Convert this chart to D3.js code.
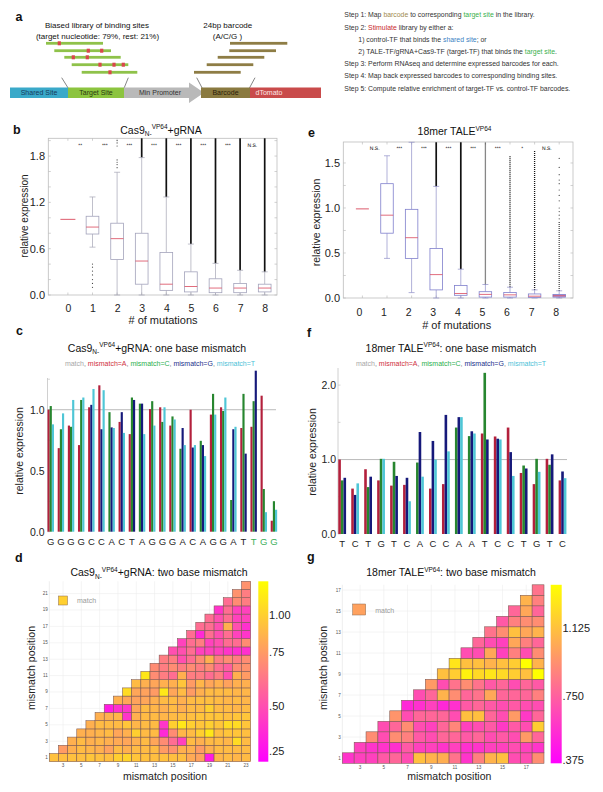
<!DOCTYPE html>
<html><head><meta charset="utf-8">
<script src="https://cdn.jsdelivr.net/npm/d3@7"></script>
<style>body{margin:0;background:#fff} svg{display:block} text{font-family:"Liberation Sans",Arial,Helvetica,sans-serif}</style>
</head><body><svg id="c" width="603" height="792"></svg>
<script>
// ---------------- DATA ----------------
const mutationCounts = [0,1,2,3,4,5,6,7,8];
// [lowWhisker, q1, median, q3, highWhisker]
const cas9Box = [
 [0.98,0.98,0.98,0.98,0.98],
 [0.62,0.79,0.88,1.02,1.27],
 [0.00,0.46,0.73,0.93,1.59],
 [0.00,0.14,0.44,0.80,1.78],
 [0.00,0.06,0.14,0.55,1.27],
 [0.00,0.04,0.11,0.30,0.66],
 [0.00,0.03,0.09,0.21,0.41],
 [0.00,0.03,0.09,0.15,0.32],
 [0.00,0.04,0.09,0.14,0.30]];
const cas9Outliers = [[],[0.40,0.36,0.31,0.26,0.20,0.15,0.10],[1.65,1.69,1.72,1.75,1.93,1.97,2.00],[],[],[],[],[],[]];
const cas9DenseOutliers = [null,null,null,[1.78,2.03],[1.27,2.03],[0.66,2.03],[0.41,2.03],[0.32,2.03],[0.30,2.03]];
const cas9Signif = ["**","***","***","***","***","***","***","N.S."];
const cas9YTicks = [0,0.6,1.2,1.8];

const taleBox = [
 [0.99,0.99,0.99,0.99,0.99],
 [0.44,0.72,0.92,1.27,1.58],
 [0.06,0.44,0.67,0.985,1.73],
 [0.00,0.09,0.26,0.55,1.24],
 [0.00,0.03,0.05,0.14,0.32],
 [0.00,0.01,0.04,0.07,0.15],
 [0.00,0.01,0.035,0.06,0.12],
 [0.00,0.005,0.02,0.045,0.09],
 [0.00,0.01,0.025,0.04,0.08]];
const taleOutliers = [[],[],[],[],[],[],[],[],[1.55,1.45,1.37,1.31,1.27,1.20,1.14,1.08,1.00,0.96,0.92,0.88]];
const taleDenseOutliers = [null,null,null,[1.24,1.73],[0.32,1.73],[0.15,1.73],[0.12,1.58],[0.09,1.64],[0.08,0.85]];
const taleSignif = ["N.S.","***","***","***","***","***","*","N.S."];
const taleYTicks = [0,0.5,1.0,1.5];

const bases = ["A","C","G","T"];
const cas9Seq = ["G","G","G","G","C","C","A","C","T","A","G","G","G","A","C","A","G","G","A","T","T","G","G"];
const cas9MisA = [1.00,0.685,0.87,0.71,1.02,1.20,null,0.90,0.80,null,1.005,1.02,0.87,null,1.00,null,0.96,1.02,null,0.85,0.86,1.115,0.09];
const cas9MisC = [1.03,0.84,0.86,1.08,null,null,0.98,null,1.10,1.05,1.07,0.90,0.945,0.68,null,0.745,1.13,0.99,0.26,1.13,1.07,0.35,0.25];
const cas9MisG = [null,null,null,null,1.04,0.84,0.855,0.98,1.08,1.05,null,null,null,0.85,0.69,0.71,null,null,0.84,0.64,1.32,null,null];
const cas9MisT = [0.88,0.97,1.08,1.10,1.17,1.16,0.85,0.81,null,0.80,0.87,1.02,0.92,0.71,0.71,0.62,0.96,1.10,0.86,null,null,0.16,0.18];

const taleSeq = ["T","C","T","G","T","C","A","C","C","A","A","T","C","C","T","G","T","C"];
const taleMisA = [1.00,0.61,0.87,0.72,0.65,0.66,null,0.61,0.67,null,null,1.35,1.31,1.43,0.82,0.67,1.01,0.72];
const taleMisC = [0.72,null,0.63,1.01,0.97,null,0.96,null,null,1.43,1.315,2.165,null,null,0.92,1.01,0.93,null];
const taleMisG = [0.755,0.525,0.77,null,0.78,0.755,1.37,1.25,1.60,1.57,1.38,1.27,1.28,1.10,0.88,null,1.07,0.84];
const taleMisT = [null,0.68,null,1.01,null,0.44,0.77,1.00,1.11,1.57,1.35,null,1.27,0.78,null,0.835,null,0.75];

// two-base mismatch heatmaps: row i (first position) lists values for second positions i+1..N
const cas9Pair = [
 [0.93,0.92,0.93,0.92,0.95,0.93,0.92,1.00,1.02,0.95,0.93,0.92,0.93,0.92,0.92,0.82,0.78,0.30,0.88,0.90,0.88,0.90],
 [0.75,0.85,0.90,0.88,0.85,0.78,0.90,0.85,0.90,0.90,0.90,0.75,0.72,0.85,0.85,0.75,0.85,0.90,0.90,0.90,0.90],
 [0.85,0.90,0.85,0.88,0.85,0.82,0.80,0.85,0.90,0.80,0.70,0.60,0.45,0.90,0.85,0.90,0.90,0.88,1.05,0.90],
 [0.85,0.85,0.88,0.90,0.80,0.85,1.00,0.90,0.90,0.35,0.70,0.88,0.90,1.00,1.10,0.92,0.95,0.95,0.92],
 [0.85,0.90,0.90,0.90,0.95,0.88,0.90,0.90,0.40,1.00,1.10,1.00,0.95,1.00,0.95,1.05,1.05,0.95],
 [0.85,0.85,0.88,0.40,0.85,0.90,0.90,0.88,0.90,0.92,0.92,0.95,0.95,0.95,0.92,0.95,0.95],
 [0.30,0.38,0.40,0.80,0.90,0.88,0.85,0.90,0.85,0.90,0.90,1.00,0.90,0.90,0.88,0.90],
 [0.85,0.80,0.78,0.80,0.85,0.90,0.90,0.85,0.90,0.92,0.92,0.90,0.88,0.90,0.88],
 [1.05,0.80,0.78,0.75,1.10,0.80,0.90,0.75,0.85,0.90,0.90,0.90,0.88,0.88],
 [0.90,0.85,0.80,0.85,0.85,0.95,0.75,0.88,0.80,0.85,0.78,0.85,0.85],
 [1.10,0.70,0.65,0.60,0.85,0.65,0.65,0.60,0.65,0.50,0.85,0.75],
 [0.70,0.65,0.70,0.65,0.70,0.65,0.70,0.60,0.55,0.70,0.72],
 [0.65,0.65,0.50,0.60,0.70,0.85,0.65,0.70,0.65,0.70],
 [0.50,0.50,0.60,0.45,0.45,0.45,0.40,0.38,0.38],
 [0.45,0.60,0.65,0.45,0.50,0.60,0.60,0.70],
 [0.60,0.35,0.60,0.50,0.60,0.45,0.40],
 [0.60,0.60,0.50,0.85,0.50,0.38],
 [0.60,0.50,0.60,0.45,0.45],
 [0.40,0.60,0.45,0.45],
 [0.60,0.70,0.65],
 [0.72,0.65],
 [0.72]];
const talePair = [
 [0.57,0.62,0.62,0.72,0.77,0.67,1.12,1.07,1.05,0.82,0.57,0.87,1.07,1.12,0.67,0.67,0.92],
 [0.62,0.57,0.57,0.55,0.72,0.62,0.62,0.57,0.62,0.55,0.57,0.62,0.62,0.67,0.62,0.57],
 [0.92,0.67,0.92,0.87,0.72,0.67,0.77,0.77,0.72,0.77,0.67,0.72,0.67,0.97,0.77],
 [0.67,0.77,0.92,0.67,0.62,0.77,0.89,0.62,0.67,0.72,0.59,0.72,0.67,1.17],
 [0.95,0.67,0.77,0.77,0.77,0.67,1.12,1.12,0.77,0.67,0.97,0.59,0.77],
 [0.52,0.55,0.62,0.52,0.55,0.72,0.77,0.72,0.67,0.72,0.67,0.67],
 [0.67,0.77,1.07,0.92,0.77,0.82,1.02,0.77,0.77,0.77,0.87],
 [0.97,0.67,0.82,0.92,0.82,0.72,0.77,0.67,0.77,0.72],
 [1.12,1.17,1.32,1.22,1.27,1.22,1.17,1.12,1.38],
 [1.27,1.12,1.12,1.07,1.12,1.17,1.38,1.07],
 [0.67,0.67,1.02,0.62,0.87,0.67,0.92],
 [0.77,0.67,0.62,1.02,0.87,0.77],
 [0.82,0.92,1.12,1.02,1.07],
 [0.72,0.87,0.92,0.92],
 [0.77,1.02,0.77],
 [1.07,0.87],
 [0.82]];
const cas9CbTicks = [0.25,0.5,0.75,1.0];
const cas9CbLabels = [".25",".50",".75","1.00"];
const taleCbTicks = [0.375,0.75,1.125];
const taleCbLabels = [".375",".750","1.125"];

// ---------------- DRAWING ----------------
const svg = d3.select("#c");
const baseCol = {A:"#b3203c", C:"#27862f", G:"#16197a", T:"#4fc6d6"};
const legCol = {match:"#a8a8a8", A:"#cf2f3d", C:"#2bb04c", G:"#22308a", T:"#4cbfd7"};

function txt(g,s,x,y,size,o={}){
  const t=g.append("text").attr("x",x).attr("y",y).attr("font-size",size).attr("fill",o.fill||"#111").text(s);
  if(o.anchor) t.attr("text-anchor",o.anchor);
  if(o.bold) t.attr("font-weight","bold");
  if(o.rot) t.attr("transform",`rotate(-90,${x},${y})`);
  return t;
}
function rich(g,x,y,size,parts,anchor="middle"){
  const t=g.append("text").attr("x",x).attr("y",y).attr("font-size",size).attr("text-anchor",anchor).attr("fill","#111");
  parts.forEach(p=>{const s=t.append("tspan").text(p.t).attr("dy",p.dy||0).attr("font-size",p.s?size*0.62:size); if(p.c) s.attr("fill",p.c);});
  return t;
}

// ===== Panel a =====
const A = svg.append("g");
txt(A,"a",15.5,20.5,12.5,{bold:true});
txt(A,"Biased library of binding sites",97,28,8,{anchor:"middle"});
txt(A,"(target nucleotide: 79%, rest: 21%)",97.5,38.5,8,{anchor:"middle"});
txt(A,"24bp barcode",227.8,28,8,{anchor:"middle"});
txt(A,"(A/C/G )",227.5,38.5,8,{anchor:"middle"});
const libRows=[[46,103,[59.3]],[54.3,111,[88.3,101.7]],[64.3,120.7,[73.3,87.3]],[71.7,128.3,[100,114,123.3]],[81.7,137.3,[110]]];
const rowY=[43.3,50.7,57.3,64.7,72.3];
libRows.forEach((r,i)=>{
  A.append("rect").attr("x",r[0]).attr("y",rowY[i]-1.4).attr("width",r[1]-r[0]).attr("height",2.8).attr("fill","#8fc24a");
  r[2].forEach(m=>A.append("rect").attr("x",m-1.6).attr("y",rowY[i]-2).attr("width",3.2).attr("height",4).attr("fill","#d9464b"));
});
const bcRows=[[230,287.3],[229.3,276],[217.7,264.3],[206.7,253.3],[194,240.7]];
bcRows.forEach((r,i)=>A.append("rect").attr("x",r[0]).attr("y",rowY[i]-1.4).attr("width",r[1]-r[0]).attr("height",2.8).attr("fill","#8e7d45"));
[[61.7,77.7,68.3,88.3],[128.3,77.7,124,88.3],[196.7,77.7,202.3,88.3],[255,77.7,249.3,88.3]].forEach(l=>
  A.append("line").attr("x1",l[0]).attr("y1",l[1]).attr("x2",l[2]).attr("y2",l[3]).attr("stroke","#333").attr("stroke-width",0.6));
const bY=87.5,bH=10.5;
A.append("rect").attr("x",10).attr("y",bY).attr("width",58).attr("height",bH).attr("fill","#3aa9c9");
A.append("rect").attr("x",68).attr("y",bY).attr("width",56).attr("height",bH).attr("fill","#8cc43f");
A.append("path").attr("d",`M124,${bY}H189V82.5L204,92.7L189,102.9V${bY+bH}H124Z`).attr("fill","#b9b9b9");
A.append("rect").attr("x",250).attr("y",bY).attr("width",71).attr("height",bH).attr("fill","#c94b4b");
A.append("rect").attr("x",201).attr("y",bY).attr("width",49).attr("height",bH).attr("fill","#8a7a40");
txt(A,"Shared Site",39,95.3,7,{anchor:"middle",fill:"#163a5c"});
txt(A,"Target Site",96,95.3,7,{anchor:"middle",fill:"#2a3a10"});
txt(A,"Min Promoter",160,95.3,7,{anchor:"middle",fill:"#333"});
txt(A,"Barcode",225.5,95.3,7,{anchor:"middle",fill:"#2a2008"});
txt(A,"dTomato",269,95.3,7,{anchor:"middle",fill:"#fde6e6"});
const stepLines=[
 [344.3,17.3,[["Step 1: Map "],["barcode","#a08a50"],[" to corresponding "],["target site","#39b04c"],[" in the library."]]],
 [344.3,29.5,[["Step 2: "],["Stimulate","#c8282c"],[" library by either a:"]]],
 [358.3,41.6,[["1) control-TF that binds the "],["shared site","#3a82c4"],["; or"]]],
 [358.3,54,[["2) TALE-TF/gRNA+Cas9-TF (target-TF) that binds the "],["target site","#39b04c"],["."]]],
 [344.3,66.2,[["Step 3: Perform RNAseq and determine expressed barcodes for each."]]],
 [344.3,78.3,[["Step 4: Map back expressed barcodes to corresponding binding sites."]]],
 [344.3,90.5,[["Step 5: Compute relative enrichment of target-TF vs. control-TF barcodes."]]]];
stepLines.forEach(l=>{const t=A.append("text").attr("x",l[0]).attr("y",l[1]).attr("font-size",6.9).attr("fill","#333");
  l[2].forEach(p=>{const s=t.append("tspan").text(p[0]); if(p[1]) s.attr("fill",p[1]);});});

// ===== Box panels =====
function boxPanel(cfg){
  const g=svg.append("g");
  const x=d3.scalePoint().domain(mutationCounts).range(cfg.xr);
  const y=d3.scaleLinear().domain([0,cfg.ymax]).range([cfg.bottom,cfg.top]);
  g.append("rect").attr("x",cfg.left).attr("y",cfg.top).attr("width",cfg.right-cfg.left).attr("height",cfg.bottom-cfg.top).attr("fill","none").attr("stroke","#bdbdbd").attr("stroke-width",0.8);
  d3.range(0,cfg.ymax,cfg.minor).forEach(v=>{[cfg.left,cfg.right].forEach((xx,k)=>g.append("line").attr("x1",xx).attr("x2",xx+(k?-2.5:2.5)).attr("y1",y(v)).attr("y2",y(v)).attr("stroke","#bdbdbd").attr("stroke-width",0.7));});
  mutationCounts.forEach(m=>{[cfg.top,cfg.bottom].forEach((yy,k)=>g.append("line").attr("x1",x(m)).attr("x2",x(m)).attr("y1",yy).attr("y2",yy+(k?-2.5:2.5)).attr("stroke","#bdbdbd").attr("stroke-width",0.7));});
  const ya=g.append("g").attr("transform",`translate(${cfg.left},0)`).call(d3.axisLeft(y).tickValues(cfg.yticks).tickFormat(d3.format(".1f")).tickSize(0).tickPadding(3.3));
  ya.select(".domain").remove(); ya.selectAll("text").attr("font-size",11).attr("fill","#222").attr("font-family","Liberation Sans, Arial");
  const xa=g.append("g").attr("transform",`translate(0,${cfg.bottom})`).call(d3.axisBottom(x).tickSize(0).tickPadding(cfg.xpad));
  xa.select(".domain").remove(); xa.selectAll("text").attr("font-size",10.5).attr("fill","#222").attr("dx",cfg.xdx).attr("font-family","Liberation Sans, Arial");
  const bw=cfg.bw;
  cfg.stats.forEach((s,i)=>{
    const cx=x(i);
    if(i===0){g.append("line").attr("x1",cx-cfg.zw/2).attr("x2",cx+cfg.zw/2).attr("y1",y(s[2])).attr("y2",y(s[2])).attr("stroke","#d9485c").attr("stroke-width",0.9);return;}
    const dn=cfg.dense[i];
    if(dn){const l=g.append("line").attr("x1",cx).attr("x2",cx).attr("y1",y(dn[0])).attr("y2",y(Math.min(dn[1],cfg.ymax))).attr("stroke","#111").attr("stroke-width",cfg.dotted(i)?1.3:1.7);
      if(cfg.dotted(i)) l.attr("stroke-dasharray","0.9,1.1");}
    cfg.out[i].forEach(v=>g.append("circle").attr("cx",cx).attr("cy",y(v)).attr("r",0.6).attr("fill","#444"));
    [[s[0],s[1]],[s[3],Math.min(s[4],cfg.ymax)]].forEach(w=>g.append("line").attr("x1",cx).attr("x2",cx).attr("y1",y(w[0])).attr("y2",y(w[1])).attr("stroke",cfg.wcol).attr("stroke-width",0.7));
    [s[0],s[4]].forEach(v=>{if(v<cfg.ymax) g.append("line").attr("x1",cx-3).attr("x2",cx+3).attr("y1",y(v)).attr("y2",y(v)).attr("stroke",cfg.wcol).attr("stroke-width",0.7);});
    g.append("rect").attr("x",cx-bw/2).attr("y",y(s[3])).attr("width",bw).attr("height",y(s[1])-y(s[3])).attr("fill",i===8&&cfg.fill8?"#b9a0d8":"#fff").attr("stroke",cfg.bcol).attr("stroke-width",0.8);
    g.append("line").attr("x1",cx-bw/2).attr("x2",cx+bw/2).attr("y1",y(s[2])).attr("y2",y(s[2])).attr("stroke","#d9485c").attr("stroke-width",0.8);
  });
  cfg.signif.forEach((s,i)=>txt(g,s,(x(i)+x(i+1))/2,cfg.sigY,5,{anchor:"middle",fill:"#000"}).attr("text-rendering","geometricPrecision"));
  return {g,x,y};
}
// panel b
txt(svg,"b",13,133.5,12.5,{bold:true});
rich(svg,161,133.5,10.5,[{t:"Cas9"},{t:"N-",s:1,dy:2.5},{t:"VP64",s:1,dy:-7},{t:"+gRNA",dy:4.5}]);
boxPanel({left:48.3,right:277,top:138.3,bottom:295,ymax:2.03,xr:[67.9,264.7],minor:0.2,yticks:cas9YTicks,
  stats:cas9Box,out:cas9Outliers,dense:cas9DenseOutliers,signif:cas9Signif,sigY:146.8,bw:12.7,zw:15,
  wcol:"#a5a5b5",bcol:"#a3a3bb",dotted:()=>false,xpad:9.5,xdx:0,fill8:false});
txt(svg,"relative expression",27.5,216,10,{anchor:"middle",rot:true,fill:"#222"});
txt(svg,"# of mutations",163,324,11,{anchor:"middle",fill:"#222"});
// panel e
txt(svg,"e",308,137,12.5,{bold:true});
rich(svg,454.5,135,10.5,[{t:"18mer TALE"},{t:"VP64",s:1,dy:-4.5},{t:"",dy:4.5}]);
boxPanel({left:343.3,right:573,top:142,bottom:298,ymax:1.733,xr:[362.4,559.2],minor:0.25,yticks:taleYTicks,
  stats:taleBox,out:taleOutliers,dense:taleDenseOutliers,signif:taleSignif,sigY:149.8,bw:12.5,zw:13,
  wcol:"#8f8fc8",bcol:"#7f7fcc",dotted:i=>i>=5,xpad:10.5,xdx:-3.5,fill8:true});
txt(svg,"relative expression",319.8,222.5,10.5,{anchor:"middle",rot:true,fill:"#222"});
txt(svg,"# of mutations",456.7,329,11,{anchor:"middle",fill:"#222"});

// ===== One-base mismatch bar panels =====
function mismatchPanel(cfg){
  const g=svg.append("g");
  const idx=d3.range(cfg.seq.length);
  const x=d3.scaleBand().domain(idx).range(cfg.xr);
  const y=d3.scaleLinear().domain([0,cfg.ymax]).range([cfg.bottom,cfg.top]);
  g.append("line").attr("x1",cfg.axisX).attr("x2",cfg.axisX).attr("y1",cfg.bottom).attr("y2",cfg.top).attr("stroke","#c4c4c4").attr("stroke-width",0.8);
  d3.range(0,cfg.ymax,cfg.minor).forEach(v=>g.append("line").attr("x1",cfg.axisX).attr("x2",cfg.axisX+2.5).attr("y1",y(v)).attr("y2",y(v)).attr("stroke","#c4c4c4").attr("stroke-width",0.7));
  g.append("line").attr("x1",cfg.axisX).attr("x2",cfg.gridEnd).attr("y1",y(1)).attr("y2",y(1)).attr("stroke","#a9a9a9").attr("stroke-width",0.8);
  const ya=g.append("g").attr("transform",`translate(${cfg.axisX},0)`).call(d3.axisLeft(y).tickValues(cfg.yticks).tickFormat(d3.format(".1f")).tickSize(0).tickPadding(cfg.ypad));
  ya.select(".domain").remove(); ya.selectAll("text").attr("font-size",10.5).attr("fill","#222").attr("font-family","Liberation Sans, Arial");
  const xa=g.append("g").attr("transform",`translate(0,${cfg.bottom})`).call(d3.axisBottom(x).tickFormat(i=>cfg.seq[i]).tickSize(0).tickPadding(cfg.xpad));
  xa.select(".domain").remove(); xa.selectAll("text").attr("font-size",9.5).attr("font-family","Liberation Sans, Arial").attr("fill",i=>cfg.greenFrom!=null&&i>=cfg.greenFrom?"#3cb05a":"#222");
  const vals=[cfg.A,cfg.C,cfg.G,cfg.T];
  idx.forEach(i=>{
    const bars=bases.map((b,k)=>({b,v:vals[k][i]})).filter(d=>d.v!=null);
    const cx=x(i)+x.bandwidth()/2, w=cfg.barW;
    bars.forEach((d,j)=>g.append("rect").attr("x",cx-w*bars.length/2+j*w).attr("y",y(d.v)).attr("width",w).attr("height",cfg.bottom-y(d.v)).attr("fill",baseCol[d.b]));
  });
  const leg=g.append("text").attr("x",cfg.legX).attr("y",cfg.legY).attr("font-size",7).attr("text-anchor","middle").attr("fill","#777");
  [["match",legCol.match],[", "],["mismatch=A",legCol.A],[", "],["mismatch=C",legCol.C],[", "],["mismatch=G",legCol.G],[", "],["mismatch=T",legCol.T]].forEach(p=>{const s=leg.append("tspan").text(p[0]); if(p[1]) s.attr("fill",p[1]);});
}
txt(svg,"c",16,335,12.5,{bold:true});
rich(svg,157,351.5,10.5,[{t:"Cas9"},{t:"N-",s:1,dy:2.5},{t:"VP64",s:1,dy:-7},{t:"+gRNA: one base mismatch",dy:4.5}]);
mismatchPanel({seq:cas9Seq,A:cas9MisA,C:cas9MisC,G:cas9MisG,T:cas9MisT,xr:[45.7,279],ymax:1.26,bottom:531.7,top:378,
  axisX:47.5,gridEnd:276,minor:0.25,yticks:[0,0.5,1.0],ypad:3,xpad:7,greenFrom:20,barW:2.15,legX:160,legY:366});
txt(svg,"relative expression",22.5,451,10.5,{anchor:"middle",rot:true,fill:"#222"});
txt(svg,"f",307,336.5,12.5,{bold:true});
rich(svg,451,351.5,10.5,[{t:"18mer TALE"},{t:"VP64",s:1,dy:-4.5},{t:": one base mismatch",dy:4.5}]);
mismatchPanel({seq:taleSeq,A:taleMisA,C:taleMisC,G:taleMisG,T:taleMisT,xr:[335.7,569],ymax:2.23,bottom:534,top:368,
  axisX:338,gridEnd:567,minor:0.5,yticks:[0,1.0,2.0],ypad:2,xpad:6.5,greenFrom:null,barW:2.6,legX:451,legY:366});
txt(svg,"relative expression",316,452,10.5,{anchor:"middle",rot:true,fill:"#222"});

// ===== Two-base mismatch heatmaps =====
const spring=d3.interpolateRgb("#ff00ff","#ffff00");
function heatPanel(cfg){
  const g=svg.append("g");
  const n=cfg.n;
  const cols=d3.range(2,n+1), rows=d3.range(1,n);
  const x=d3.scaleBand().domain(cols).range([cfg.left,cfg.right]);
  const y=d3.scaleBand().domain(rows).range([cfg.bottom,cfg.top]);
  const cb=d3.scaleLinear().domain(cfg.cbDom).range(cfg.cbRange).clamp(true);
  const color=v=>spring(Math.max(0,Math.min(1,(cfg.bottom-cb(v))/(cfg.bottom-cfg.top))));
  const odd=v=>v%2===1;
  cols.filter(odd).forEach(c=>g.append("line").attr("x1",x(c)+x.bandwidth()/2).attr("x2",x(c)+x.bandwidth()/2).attr("y1",cfg.top).attr("y2",cfg.bottom).attr("stroke","#ececec").attr("stroke-width",0.6));
  rows.filter(odd).forEach(r=>g.append("line").attr("x1",cfg.left).attr("x2",cfg.right).attr("y1",y(r)+y.bandwidth()/2).attr("y2",y(r)+y.bandwidth()/2).attr("stroke","#ececec").attr("stroke-width",0.6));
  g.append("line").attr("x1",cfg.left).attr("x2",cfg.left).attr("y1",cfg.top).attr("y2",cfg.bottom).attr("stroke","#e0e0e0").attr("stroke-width",0.6);
  cfg.data.forEach((row,ri)=>{const r=ri+1; row.forEach((v,k)=>{const c=r+1+k;
    g.append("rect").attr("x",x(c)).attr("y",y(r)).attr("width",x.bandwidth()).attr("height",y.bandwidth()).attr("fill",color(v)).attr("stroke","#7a5650").attr("stroke-width",0.55);});});
  const ya=g.append("g").attr("transform",`translate(${cfg.left},0)`).call(d3.axisLeft(y).tickValues(rows.filter(odd)).tickSize(0).tickPadding(1.5));
  ya.select(".domain").remove(); ya.selectAll("text").attr("font-size",4.6).attr("fill","#555");
  const xa=g.append("g").attr("transform",`translate(0,${cfg.bottom})`).call(d3.axisBottom(x).tickValues(cols.filter(odd)).tickSize(0).tickPadding(2.5));
  xa.select(".domain").remove(); xa.selectAll("text").attr("font-size",4.6).attr("fill","#555");
  // colorbar
  const gid="grad"+cfg.id;
  const lg=svg.append("defs").append("linearGradient").attr("id",gid).attr("x1",0).attr("y1",1).attr("x2",0).attr("y2",0);
  d3.range(0,1.0001,0.1).forEach(t=>lg.append("stop").attr("offset",t).attr("stop-color",spring(t)));
  g.append("rect").attr("x",cfg.cbX).attr("y",cfg.top).attr("width",cfg.cbW).attr("height",cfg.bottom-cfg.top).attr("fill",`url(#${gid})`);
  const ca=g.append("g").attr("transform",`translate(${cfg.cbX+cfg.cbW},0)`).call(d3.axisRight(cb).tickValues(cfg.cbTicks).tickFormat((d,i)=>cfg.cbLabels[i]).tickSize(0).tickPadding(0.8));
  ca.select(".domain").remove(); ca.selectAll("text").attr("font-size",11).attr("fill","#222").attr("font-family","Liberation Sans, Arial");
  // legend
  g.append("rect").attr("x",cfg.legX).attr("y",cfg.legY).attr("width",cfg.legW).attr("height",cfg.legH).attr("fill",color(1.0)).attr("stroke","#8a6a50").attr("stroke-width",0.5);
  txt(g,"match",cfg.legX+cfg.legW+9.5,cfg.legY+cfg.legH-2,7,{fill:"#9a9a9a"});
}
txt(svg,"d",15,561.5,12.5,{bold:true});
rich(svg,159,576,10.5,[{t:"Cas9"},{t:"N-",s:1,dy:2.5},{t:"VP64",s:1,dy:-7},{t:"+gRNA: two base mismatch",dy:4.5}]);
heatPanel({id:"d",n:23,data:cas9Pair,left:49.3,right:250.7,top:581.3,bottom:761.7,cbX:258.3,cbW:10,
  cbDom:[0.19,0.25,0.5,0.75,1.0,1.2],cbRange:[761.7,750.7,706,651.7,615,581.3],cbTicks:cas9CbTicks,cbLabels:cas9CbLabels,
  legX:58.5,legY:596,legW:9,legH:9});
txt(svg,"mismatch position",165,780,10.5,{anchor:"middle",fill:"#222"});
txt(svg,"mismatch position",35.4,668,10.5,{anchor:"middle",rot:true,fill:"#222"});
txt(svg,"g",307,560.5,12.5,{bold:true});
rich(svg,451,576,10.5,[{t:"18mer TALE"},{t:"VP64",s:1,dy:-4.5},{t:": two base mismatch",dy:4.5}]);
heatPanel({id:"g",n:18,data:talePair,left:342.3,right:544,top:584.8,bottom:763.3,cbX:550.7,cbW:11,
  cbDom:[0.36,0.375,0.75,1.125,1.38],cbRange:[763.3,760,695.7,627.7,584.8],cbTicks:taleCbTicks,cbLabels:taleCbLabels,
  legX:352.7,legY:604,legW:13,legH:11});
txt(svg,"mismatch position",449.3,780,10.5,{anchor:"middle",fill:"#222"});
txt(svg,"mismatch position",327,668,10.5,{anchor:"middle",rot:true,fill:"#222"});
</script></body></html>
